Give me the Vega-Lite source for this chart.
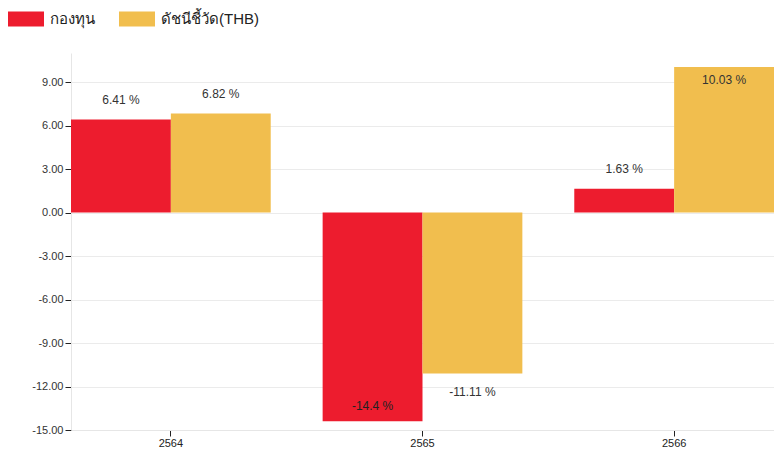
{
  "$schema": "https://vega.github.io/schema/vega-lite/v6.json",
  "autosize": {"type": "none"},
  "padding": {"left": 71, "top": 53, "right": 0, "bottom": 22},
  "width": 703,
  "height": 377,
  "background": "white",
  "config": {
    "view": {"stroke": null},
    "font": "Liberation Sans",
    "text": {"font": "Liberation Sans"}
  },
  "data": {
    "values": [
      {"year": "2564", "series": "กองทุน", "value": 6.41},
      {"year": "2564", "series": "ดัชนีชี้วัด(THB)", "value": 6.82},
      {"year": "2565", "series": "กองทุน", "value": -14.4},
      {"year": "2565", "series": "ดัชนีชี้วัด(THB)", "value": -11.11},
      {"year": "2566", "series": "กองทุน", "value": 1.63},
      {"year": "2566", "series": "ดัชนีชี้วัด(THB)", "value": 10.03}
    ]
  },
  "transform": [{"calculate": "datum.value + ' %'", "as": "label"}],
  "encoding": {
    "x": {
      "field": "year", "type": "nominal",
      "scale": {"paddingInner": 0.2063, "paddingOuter": 0},
      "axis": {
        "title": null, "labelAngle": 0, "labelFont": "Liberation Sans", "labelFontSize": 11,
        "labelColor": "#222", "domainColor": "#e6e6e6", "tickColor": "#222", "tickSize": 6,
        "labelPadding": 1, "grid": false
      }
    },
    "xOffset": {"field": "series", "type": "nominal", "scale": {"paddingInner": 0, "paddingOuter": 0}, "sort": ["กองทุน", "ดัชนีชี้วัด(THB)"]},
    "y": {
      "field": "value", "type": "quantitative",
      "scale": {"domain": [-15, 11], "nice": false, "zero": false},
      "axis": {
        "title": null, "values": [-15, -12, -9, -6, -3, 0, 3, 6, 9], "format": ".2f",
        "labelExpr": "replace(datum.label, '\u2212', '-')",
        "labelFont": "Liberation Sans", "labelFontSize": 11, "labelColor": "#333",
        "domainColor": "#e6e6e6", "tickColor": "#222", "tickSize": 6, "labelPadding": 2,
        "gridColor": "#ebebeb", "grid": true
      }
    }
  },
  "layer": [
    {
      "mark": {"type": "bar", "clip": true},
      "encoding": {
        "y2": {"datum": 0},
        "color": {
          "field": "series", "type": "nominal",
          "sort": ["กองทุน", "ดัชนีชี้วัด(THB)"],
          "scale": {"domain": ["กองทุน", "ดัชนีชี้วัด(THB)"], "range": ["#ED1C2E", "#F1BE4E"]},
          "legend": {
            "orient": "none", "legendX": -60, "legendY": -49, "direction": "horizontal",
            "title": null, "symbolType": "M-1.2,-0.5H1.2V0.5H-1.2Z", "symbolSize": 900,
            "symbolStrokeWidth": 0, "labelFontSize": 15, "labelColor": "#222",
            "labelFont": "Liberation Sans", "columnPadding": 24, "labelOffset": 9
          }
        }
      }
    },
    {
      "transform": [{"filter": "datum.value >= 0 && datum.value < 10"}],
      "mark": {"type": "text", "dy": -20, "fontSize": 12, "color": "#333", "font": "Liberation Sans"},
      "encoding": {"text": {"field": "label", "type": "nominal"}}
    },
    {
      "transform": [{"filter": "datum.value >= 10"}],
      "mark": {"type": "text", "dy": 13, "fontSize": 12, "color": "#333", "font": "Liberation Sans"},
      "encoding": {"text": {"field": "label", "type": "nominal"}}
    },
    {
      "transform": [{"filter": "datum.value < 0 && datum.value > -14"}],
      "mark": {"type": "text", "dy": 18, "fontSize": 12, "color": "#333", "font": "Liberation Sans"},
      "encoding": {"text": {"field": "label", "type": "nominal"}}
    },
    {
      "transform": [{"filter": "datum.value <= -14"}],
      "mark": {"type": "text", "dy": -15, "fontSize": 12, "color": "#222", "font": "Liberation Sans"},
      "encoding": {"text": {"field": "label", "type": "nominal"}}
    }
  ]
}
